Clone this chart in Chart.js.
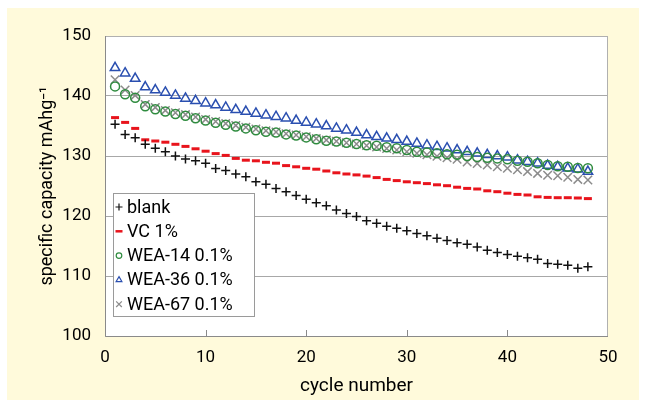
<!DOCTYPE html>
<html>
<head>
<meta charset="utf-8">
<script src="https://cdn.jsdelivr.net/npm/chart.js@4/dist/chart.umd.min.js"></script>
<style>
  body { margin: 0; background: #fff; }
  #wrap { width: 645px; height: 403px; }
</style>
</head>
<body>
<div id="wrap"><canvas id="capacityChart" width="645" height="403"></canvas></div>
<script>
// cycle numbers 1..48
const cycles = [1,2,3,4,5,6,7,8,9,10,11,12,13,14,15,16,17,18,19,20,21,22,23,24,
  25,26,27,28,29,30,31,32,33,34,35,36,37,38,39,40,41,42,43,44,45,46,47,48];

const blank = [135.3,133.6,133.05,131.95,131.3,130.7,130.0,129.5,129.2,128.8,127.9,127.6,
  127.0,126.55,125.7,125.3,124.6,124.05,123.4,122.8,122.2,121.7,121.0,120.4,
  119.9,119.2,118.8,118.3,117.95,117.55,117.1,116.7,116.3,115.9,115.55,115.3,
  114.85,114.3,113.9,113.6,113.3,113.05,112.8,112.1,111.95,111.8,111.3,111.55];

const vc1 = [136.4,135.6,134.6,132.7,132.5,132.3,131.95,131.6,131.2,130.8,130.4,130.1,
  129.6,129.3,129.2,128.95,128.8,128.4,128.2,127.95,127.8,127.5,127.2,127.0,
  126.85,126.65,126.4,126.1,125.9,125.7,125.55,125.4,125.2,125.05,124.8,124.6,
  124.5,124.2,124.05,123.8,123.6,123.5,123.2,123.1,123.05,123.05,123.0,122.9];

const wea14 = [141.6,140.3,139.7,138.3,137.8,137.4,137.0,136.7,136.3,135.9,135.55,135.2,
  134.9,134.6,134.3,134.05,133.9,133.6,133.4,133.1,132.8,132.55,132.4,132.2,
  132.0,131.8,131.7,131.45,131.3,131.0,130.7,130.6,130.45,130.3,130.2,130.0,
  129.85,129.7,129.6,129.45,129.2,129.05,128.8,128.5,128.3,128.2,128.0,127.95];

const wea36 = [144.7,143.8,142.9,141.5,141.0,140.6,140.1,139.6,139.2,138.8,138.5,138.1,
  137.7,137.4,137.1,136.8,136.55,136.3,135.9,135.6,135.3,135.0,134.6,134.3,
  133.9,133.5,133.2,132.95,132.7,132.4,132.1,131.8,131.55,131.3,131.0,130.7,
  130.45,130.2,130.0,129.8,129.3,129.05,128.8,128.4,128.2,127.95,127.8,127.4];

const wea67 = [142.7,141.0,140.1,138.6,138.1,137.6,137.2,136.9,136.5,136.1,135.75,135.4,
  135.1,134.8,134.5,134.2,134.0,133.7,133.5,133.2,132.9,132.65,132.45,132.2,
  132.0,131.75,131.5,131.25,131.0,130.7,130.45,130.2,129.95,129.7,129.45,129.0,
  128.75,128.5,128.2,127.95,127.7,127.4,127.1,126.8,126.7,126.45,126.1,126.0];

const xTicks = [0, 10, 20, 30, 40, 50];
const yTicks = [100, 110, 120, 130, 140, 150];

const FONT = "Roboto, 'Liberation Sans', sans-serif";

function pts(values) {
  return values.map((v, i) => ({ x: cycles[i], y: v }));
}

// cream frame, white plot box, border and the little x ticks
const framePlugin = {
  id: "frame",
  beforeDraw(chart) {
    const ctx = chart.ctx;
    const a = chart.chartArea;
    ctx.save();
    ctx.fillStyle = "#fffadb";
    ctx.fillRect(7, 8, 632, 392);
    ctx.fillStyle = "#ffffff";
    ctx.fillRect(a.left, a.top, a.right - a.left, a.bottom - a.top);
    ctx.restore();
  },
  afterDatasetsDraw(chart) {
    const ctx = chart.ctx;
    const a = chart.chartArea;
    const xs = chart.scales.x;
    ctx.save();
    ctx.lineWidth = 1;
    ctx.strokeStyle = "#b0b0b0";
    ctx.strokeRect(a.left + 0.5, a.top + 0.5, a.right - a.left - 1, a.bottom - a.top);
    ctx.strokeStyle = "#8a8a8a";
    ctx.beginPath();
    ctx.moveTo(a.left + 0.5, a.top);
    ctx.lineTo(a.left + 0.5, a.bottom + 0.5);
    ctx.lineTo(a.right, a.bottom + 0.5);
    ctx.stroke();
    xTicks.slice(1, -1).forEach((t) => {
      const px = Math.round(xs.getPixelForValue(t)) + 0.5;
      ctx.beginPath();
      ctx.moveTo(px, a.bottom);
      ctx.lineTo(px, a.bottom - 6);
      ctx.stroke();
    });
    ctx.restore();
  },
};

// legend box sitting inside the plot
const legendPlugin = {
  id: "boxLegend",
  afterDraw(chart) {
    const ctx = chart.ctx;
    const a = chart.chartArea;
    const left = a.left + 8, top = a.top + 157, w = 141, h = 123;
    ctx.save();
    ctx.fillStyle = "#ffffff";
    ctx.fillRect(left, top, w, h);
    ctx.strokeStyle = "#9a9a9a";
    ctx.lineWidth = 1;
    ctx.strokeRect(left + 0.5, top + 0.5, w, h);
    ctx.font = "18px " + FONT;
    ctx.textBaseline = "middle";
    chart.data.datasets.forEach((ds, i) => {
      const y = top + 14 + i * 24.3;
      const mx = left + 6;
      ctx.strokeStyle = ds.borderColor;
      ctx.fillStyle = "rgba(0,0,0,0)";
      ctx.lineWidth = ds.pointStyle === "line" ? 2.5 : 1.2;
      Chart.helpers.drawPoint(ctx, { pointStyle: ds.pointStyle, radius: ds.legendRadius, borderWidth: ctx.lineWidth }, mx, y);
      ctx.fillStyle = "#000";
      ctx.fillText(ds.label, left + 14, y + 1);
    });
    ctx.restore();
  },
};

const datasets = [
  { label: "blank", data: pts(blank), pointStyle: "cross", pointRadius: 4.5, borderColor: "#111111", pointBorderWidth: 1.5, legendRadius: 3.5 },
  { label: "VC 1%", data: pts(vc1), pointStyle: "line", pointRadius: 4, borderColor: "#e8141c", pointBorderWidth: 3, legendRadius: 3.5 },
  { label: "WEA-14 0.1%", data: pts(wea14), pointStyle: "circle", pointRadius: 4.5, borderColor: "#2e8b3e", pointBorderWidth: 1.5, legendRadius: 2.8 },
  { label: "WEA-36 0.1%", data: pts(wea36), pointStyle: "triangle", pointRadius: 5.5, borderColor: "#2a4fb0", pointBorderWidth: 1.5, legendRadius: 3.3 },
  { label: "WEA-67 0.1%", data: pts(wea67), pointStyle: "crossRot", pointRadius: 6, borderColor: "#8c8c8c", pointBorderWidth: 1.5, legendRadius: 4 },
];
datasets.forEach((d) => {
  d.showLine = false;
  d.backgroundColor = "rgba(0,0,0,0)";
  d.pointBackgroundColor = "rgba(0,0,0,0)";
  d.pointBorderColor = d.borderColor;
  d.pointHoverRadius = d.pointRadius;
});

const config = {
  type: "scatter",
  data: { datasets: datasets },
  options: {
    responsive: false,
    animation: false,
    events: [],
    layout: { padding: { left: 37, top: 36, right: 37, bottom: 0 } },
    plugins: { legend: { display: false }, tooltip: { enabled: false } },
    scales: {
      x: {
        type: "linear",
        min: 0,
        max: 50,
        afterBuildTicks(s) { s.ticks = xTicks.map((v) => ({ value: v })); },
        afterFit(s) { s.height = 67; },
        grid: { display: false, drawTicks: false },
        border: { display: false },
        ticks: { color: "#000", padding: 12, font: { family: FONT, size: 17 } },
        title: { display: true, text: "cycle number", color: "#000", padding: { top: 0, bottom: 5 }, font: { family: FONT, size: 19 } },
      },
      y: {
        min: 100,
        max: 150,
        afterBuildTicks(s) { s.ticks = yTicks.map((v) => ({ value: v })); },
        afterFit(s) { s.width = 68; },
        grid: { color: "#a8a8a8", drawTicks: false, lineWidth: 1 },
        border: { display: false },
        ticks: { color: "#000", padding: 14, font: { family: FONT, size: 17 } },
        title: { display: true, text: "specific capacity mAhg⁻¹", color: "#000", padding: { top: 0, bottom: 0 }, font: { family: FONT, size: 18 } },
      },
    },
  },
  plugins: [framePlugin, legendPlugin],
};

window.onload = function () {
  const ctx = document.getElementById("capacityChart").getContext("2d");
  window.capChart = new Chart(ctx, config);
};
</script>
</body>
</html>
